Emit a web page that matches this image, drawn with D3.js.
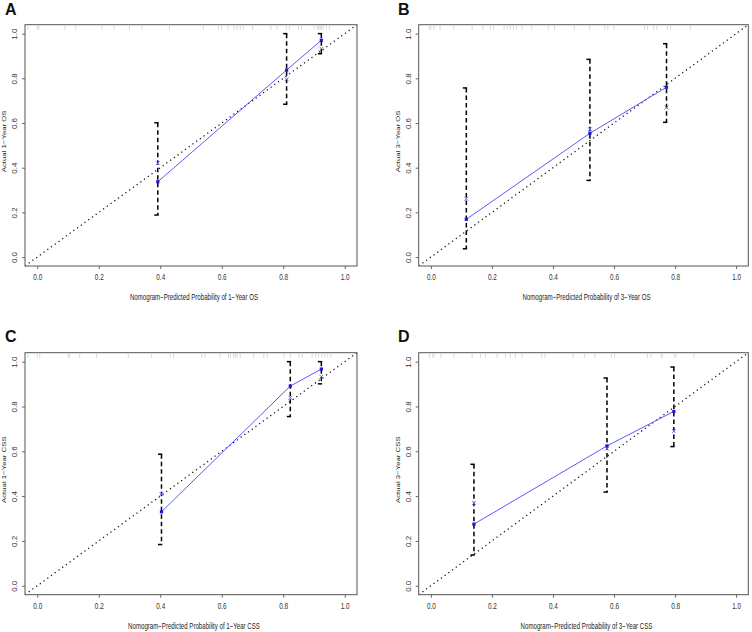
<!DOCTYPE html>
<html><head><meta charset="utf-8">
<script src="https://cdn.jsdelivr.net/npm/d3@7"></script>
<style>body{margin:0;background:#fff;}svg{display:block;}</style>
</head><body>
<script>
// ---- data ----
const panelLabels = ["A", "B", "C", "D"];
const xTitles = ["Nomogram\u2212Predicted Probability of 1\u2212Year OS", "Nomogram\u2212Predicted Probability of 3\u2212Year OS",
                 "Nomogram\u2212Predicted Probability of 1\u2212Year CSS", "Nomogram\u2212Predicted Probability of 3\u2212Year CSS"];
const yTitles = ["Actual 1\u2212Year OS", "Actual 3\u2212Year OS", "Actual 1\u2212Year CSS", "Actual 3\u2212Year CSS"];
const tickValues = [0, 0.2, 0.4, 0.6, 0.8, 1.0];
const tickLabels = ["0.0", "0.2", "0.4", "0.6", "0.8", "1.0"];

const predA = [0.392, 0.811, 0.924], obsA = [0.337, 0.837, 0.970], lowA = [0.188, 0.684, 0.910], highA = [0.601, 1.0, 1.0], corrA = [0.420, 0.796, 0.933];
const predB = [0.116, 0.521, 0.772], obsB = [0.169, 0.554, 0.760], lowB = [0.037, 0.343, 0.603], highB = [0.757, 0.885, 0.955], corrB = [0.261, 0.572, 0.669];
const predC = [0.404, 0.823, 0.924], obsC = [0.330, 0.891, 0.967], lowC = [0.184, 0.755, 0.901], highC = [0.587, 1.0, 1.0], corrC = [0.410, 0.839, 0.933];
const predD = [0.141, 0.577, 0.796], obsD = [0.275, 0.624, 0.778], lowD = [0.137, 0.418, 0.621], highD = [0.542, 0.927, 0.976], corrD = [0.369, 0.612, 0.690];

const rugA = [-0.03, 0, 0.005, 0.09, 0.125, 0.21, 0.25, 0.30, 0.34, 0.43, 0.54, 0.59, 0.60, 0.62, 0.64, 0.65, 0.66, 0.67, 0.70, 0.76, 0.78, 0.81, 0.82, 0.85, 0.86, 0.90, 0.91, 0.915, 0.92, 0.925, 0.93, 0.94, 0.95];
const rugB = [-0.005, 0.0, 0.01, 0.03, 0.075, 0.135, 0.17, 0.195, 0.206, 0.24, 0.25, 0.26, 0.27, 0.28, 0.298, 0.33, 0.385, 0.405, 0.47, 0.52, 0.57, 0.58, 0.60, 0.70, 0.71, 0.73, 0.74, 0.775, 0.786, 0.85];
const rugC = [-0.03, 0, 0.008, 0.10, 0.105, 0.138, 0.193, 0.296, 0.372, 0.432, 0.443, 0.535, 0.546, 0.595, 0.622, 0.628, 0.639, 0.644, 0.65, 0.66, 0.704, 0.737, 0.748, 0.802, 0.823, 0.851, 0.862, 0.894, 0.906, 0.915, 0.925, 0.935, 0.945, 0.955];
const rugD = [-0.005, 0.005, 0.011, 0.033, 0.076, 0.135, 0.163, 0.179, 0.217, 0.244, 0.26, 0.277, 0.298, 0.363, 0.374, 0.466, 0.504, 0.537, 0.591, 0.602, 0.71, 0.721, 0.754, 0.759, 0.797, 0.803, 0.862];

const series = [
  {pred: predA, obs: obsA, low: lowA, high: highA, corr: corrA, rug: rugA},
  {pred: predB, obs: obsB, low: lowB, high: highB, corr: corrB, rug: rugB},
  {pred: predC, obs: obsC, low: lowC, high: highC, corr: corrC, rug: rugC},
  {pred: predD, obs: obsD, low: lowD, high: highD, corr: corrD, rug: rugD}
];

// ---- layout ----
const W = 752, H = 632;
const boxes = [
  {x0: 25, x1: 357, y0: 24.7, y1: 266},
  {x0: 418.7, x1: 748.3, y0: 24.7, y1: 266},
  {x0: 25, x1: 357, y0: 352.7, y1: 594.7},
  {x0: 418.7, x1: 748.3, y0: 352.7, y1: 594.7}
];
const labelPos = [{x: 5, y: 15}, {x: 398, y: 15}, {x: 5, y: 342}, {x: 398, y: 342}];
const dom = [-0.04, 1.04];
const font = "'Liberation Sans', Arial, sans-serif";

const svg = d3.select("body").append("svg").attr("width", W).attr("height", H);

series.forEach((s, i) => {
  const b = boxes[i];
  const x = d3.scaleLinear().domain(dom).range([b.x0, b.x1]);
  const y = d3.scaleLinear().domain(dom).range([b.y1, b.y0]);
  const g = svg.append("g");
  const clipId = "clip" + i;
  g.append("clipPath").attr("id", clipId).append("rect")
    .attr("x", b.x0).attr("y", b.y0).attr("width", b.x1 - b.x0).attr("height", b.y1 - b.y0);

  // rug
  g.append("g").selectAll("line").data(s.rug).join("line")
    .attr("x1", d => x(d)).attr("x2", d => x(d))
    .attr("y1", b.y0 + 1).attr("y2", b.y0 + 5)
    .attr("stroke", "#d2d2d2").attr("stroke-width", 0.9);

  // diagonal reference
  g.append("line").attr("clip-path", `url(#${clipId})`)
    .attr("x1", x(dom[0])).attr("y1", y(dom[0])).attr("x2", x(dom[1])).attr("y2", y(dom[1]))
    .attr("stroke", "#111").attr("stroke-width", 1.3).attr("stroke-dasharray", "1.2,3.4");

  // error bars
  const eb = g.append("g");
  s.pred.forEach((p, k) => {
    eb.append("line").attr("x1", x(p)).attr("x2", x(p))
      .attr("y1", y(s.high[k])).attr("y2", y(s.low[k]))
      .attr("stroke", "#000").attr("stroke-width", 1.5).attr("stroke-dasharray", "4.5,3");
    [s.high[k], s.low[k]].forEach(v => {
      eb.append("line").attr("x1", x(p) - 3.5).attr("x2", x(p) + 0.8)
        .attr("y1", y(v)).attr("y2", y(v))
        .attr("stroke", "#000").attr("stroke-width", 1.5);
    });
  });

  // blue observed line
  const pts = s.pred.map((p, k) => [p, s.obs[k]]);
  g.append("path").datum(pts)
    .attr("d", d3.line().x(d => x(d[0])).y(d => y(d[1])))
    .attr("fill", "none").attr("stroke", "#5a5aff").attr("stroke-width", 1);
  g.append("g").selectAll("rect").data(pts).join("rect")
    .attr("x", d => x(d[0]) - 1.6).attr("y", d => y(d[1]) - 1.6)
    .attr("width", 3.2).attr("height", 3.2).attr("fill", "#1a1acc");

  // bias-corrected x markers
  const xm = g.append("g").attr("stroke", "#7070ff").attr("stroke-width", 1);
  s.pred.forEach((p, k) => {
    const cx = x(p), cy = y(s.corr[k]), r = 1.9;
    xm.append("line").attr("x1", cx - r).attr("y1", cy - r).attr("x2", cx + r).attr("y2", cy + r);
    xm.append("line").attr("x1", cx - r).attr("y1", cy + r).attr("x2", cx + r).attr("y2", cy - r);
  });

  // frame
  g.append("rect").attr("x", b.x0).attr("y", b.y0).attr("width", b.x1 - b.x0).attr("height", b.y1 - b.y0)
    .attr("fill", "none").attr("stroke", "#555").attr("stroke-width", 1);

  // x axis ticks
  const xa = g.append("g").attr("transform", `translate(0,${b.y1})`)
    .call(d3.axisBottom(x).tickValues(tickValues).tickFormat((d, j) => tickLabels[j]).tickSize(3).tickPadding(5));
  xa.select(".domain").remove();
  xa.selectAll(".tick line").attr("stroke", "#666");
  xa.selectAll(".tick text").attr("font-family", font).attr("font-size", 8.5).attr("fill", "#333")
    .attr("transform", "scale(0.75,1)").attr("x", 0);

  // y axis ticks (rotated labels)
  const ya = g.append("g").attr("transform", `translate(${b.x0},0)`)
    .call(d3.axisLeft(y).tickValues(tickValues).tickFormat((d, j) => tickLabels[j]).tickSize(3));
  ya.select(".domain").remove();
  ya.selectAll(".tick line").attr("stroke", "#666");
  ya.selectAll(".tick text").attr("font-family", font).attr("font-size", 8).attr("fill", "#333")
    .attr("x", null).attr("dy", null)
    .attr("text-anchor", "middle").attr("dominant-baseline", "central")
    .attr("transform", "translate(-10,0) rotate(-90) scale(1,0.8)");

  // axis titles
  g.append("text").attr("font-family", font).attr("font-size", 8.5).attr("fill", "#222")
    .attr("text-anchor", "middle")
    .attr("transform", `translate(${(b.x0 + b.x1) / 2 + 3},${b.y1 + 34}) scale(0.72,1)`)
    .text(xTitles[i]);
  g.append("text").attr("font-family", font).attr("font-size", 7.8).attr("fill", "#222")
    .attr("text-anchor", "middle").attr("dominant-baseline", "central")
    .attr("transform", `translate(${b.x0 - 21},${(b.y0 + b.y1) / 2 - 4}) rotate(-90) scale(1,0.8)`)
    .text(yTitles[i]);

  // panel label
  svg.append("text").attr("x", labelPos[i].x).attr("y", labelPos[i].y)
    .attr("font-family", font).attr("font-weight", "bold").attr("font-size", 16).attr("fill", "#111")
    .text(panelLabels[i]);
});
</script>
</body></html>
